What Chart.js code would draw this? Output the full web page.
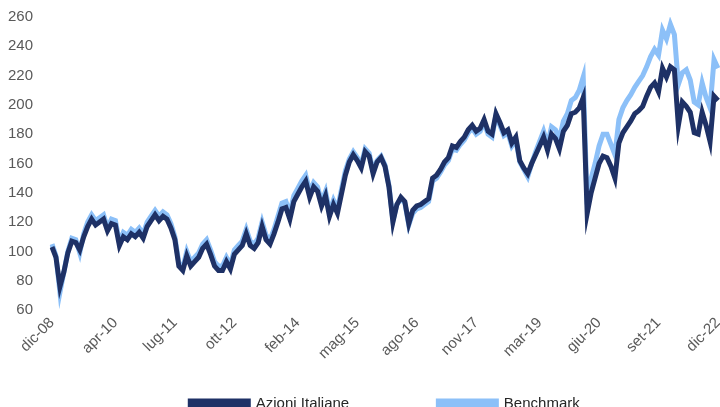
<!DOCTYPE html>
<html>
<head>
<meta charset="utf-8">
<script src="https://cdn.jsdelivr.net/npm/chart.js@4"></script>
<style>
  html, body { margin: 0; padding: 0; background: #fff; overflow: hidden; }
</style>
</head>
<body>
<canvas id="grafico" width="720" height="421"></canvas>
<script>
// mesi: da dic-08 a dic-22
const mesi = ['gen', 'feb', 'mar', 'apr', 'mag', 'giu', 'lug', 'ago', 'set', 'ott', 'nov', 'dic'];
const categorie = ['dic-08'];
for (let anno = 9; anno <= 22; anno++) {
    for (let i = 0; i < 12; i++) {
        categorie.push(mesi[i] + '-' + String(anno).padStart(2, '0'));
    }
}

const etichetteAsse = ['dic-08', 'apr-10', 'lug-11', 'ott-12', 'feb-14', 'mag-15', 'ago-16', 'nov-17', 'mar-19', 'giu-20', 'set-21', 'dic-22'];

const azioniItaliane = [
    103, 96, 76, 86, 99, 107, 106, 101, 110, 117, 122, 118, 120,
    122, 114, 119, 118, 104, 110, 108, 112, 110, 113, 109, 117,
    121, 125, 121, 124, 122, 116, 108, 90, 87, 97, 90, 93,
    96, 102, 105, 98, 90, 87, 87, 93, 88, 98, 101, 104,
    112, 104, 102, 106, 117, 108, 105, 112, 120, 129, 130, 122,
    134, 139, 144, 148, 137, 144, 141, 131, 138, 124, 132, 126,
    139, 152, 161, 166, 162, 157, 168, 165, 153, 161, 164, 158,
    144, 120, 132, 137, 134, 119, 128, 131, 132, 134, 136, 150,
    152, 156, 161, 164, 172, 171, 175, 178, 183, 186, 182, 184,
    190, 182, 180, 194, 188, 181, 183, 174, 178, 162, 157, 153,
    160, 166, 172, 178, 169, 180, 177, 170, 182, 186, 194, 195,
    198, 205, 126, 140, 150, 160, 165, 164, 158, 150, 174, 181,
    185, 189, 194, 196, 199, 206, 212, 215, 209, 225, 219, 226,
    224, 186, 202, 199, 195, 181, 180, 195, 186, 175, 206, 203
];

const benchmark = [
    105, 97, 72, 86, 100, 109, 108, 99, 112, 120, 125, 121, 123,
    125, 116, 122, 121, 106, 113, 111, 115, 113, 116, 112, 120,
    124, 128, 124, 127, 125, 119, 110, 92, 89, 100, 93, 96,
    99, 105, 108, 101, 93, 90, 90, 96, 91, 101, 104, 107,
    115, 107, 105, 109, 120, 111, 108, 115, 124, 133, 134, 126,
    138, 143, 148, 152, 141, 147, 144, 134, 141, 127, 135, 129,
    142, 155, 163, 168, 164, 159, 170, 167, 155, 162, 165, 159,
    145, 121, 132, 136, 133, 118, 126, 129, 130, 132, 134, 148,
    150, 154, 159, 162, 170, 169, 173, 176, 181, 184, 180, 182,
    188, 180, 178, 193, 186, 179, 181, 172, 176, 161, 156, 151,
    160, 168, 175, 182, 173, 185, 183, 177, 189, 194, 203, 205,
    210, 219, 132, 150, 160, 172, 180, 180, 173, 166, 190, 198,
    203, 207, 212, 216, 220, 226, 233, 238, 234, 251, 245, 255,
    248, 214, 222, 224, 217, 202, 200, 215, 205, 198, 231, 225
];

// la legenda va centrata sull'area del grafico, non su tutta la tela
const spostaLegenda = {
    id: 'spostaLegenda',
    afterLayout: function (chart) {
        chart.legend.left = chart.chartArea.left;
    }
};

const ctx = document.getElementById('grafico').getContext('2d');
const grafico = new Chart(ctx, {
    type: 'line',
    data: {
        labels: categorie,
        datasets: [{
            label: 'Azioni Italiane',
            data: azioniItaliane,
            borderColor: '#1e3166',
            backgroundColor: '#1e3166',
            borderWidth: 5,
            pointRadius: 0,
            tension: 0
        }, {
            label: 'Benchmark',
            data: benchmark,
            borderColor: '#8cc0f8',
            backgroundColor: '#8cc0f8',
            borderWidth: 5,
            pointRadius: 0,
            tension: 0
        }]
    },
    options: {
        responsive: false,
        animation: false,
        layout: {
            padding: { top: 17, right: 2, left: 0, bottom: 0 }
        },
        scales: {
            y: {
                min: 60,
                max: 260,
                border: { display: false },
                grid: { display: false, drawTicks: false },
                ticks: {
                    stepSize: 20,
                    padding: 19,
                    color: '#595959',
                    font: { family: 'Liberation Sans', size: 15 }
                },
                afterFit: function (scala) {
                    scala.width = 52;
                    scala.paddingTop = 0;
                    scala.paddingBottom = 0;
                }
            },
            x: {
                border: { display: false },
                grid: { display: false, drawTicks: false },
                ticks: {
                    autoSkip: false,
                    maxRotation: 45,
                    minRotation: 45,
                    padding: 4,
                    color: '#595959',
                    font: { family: 'Liberation Sans', size: 15 },
                    callback: function (valore) {
                        const nome = this.getLabelForValue(valore);
                        return etichetteAsse.includes(nome) ? nome : '';
                    }
                },
                afterFit: function (scala) {
                    scala.height = 76;
                    scala.paddingLeft = 0;
                    scala.paddingRight = 0;
                }
            }
        },
        plugins: {
            legend: {
                position: 'bottom',
                labels: {
                    color: '#262626',
                    boxWidth: 58,
                    boxHeight: 5,
                    padding: 10,
                    font: { family: 'Liberation Sans', size: 15 },
                    generateLabels: function (chart) {
                        const voci = Chart.defaults.plugins.legend.labels.generateLabels(chart);
                        voci[0].text = voci[0].text + '\u00a0'.repeat(19);
                        return voci;
                    }
                }
            },
            tooltip: { enabled: false }
        }
    },
    plugins: [spostaLegenda]
});
</script>
</body>
</html>
